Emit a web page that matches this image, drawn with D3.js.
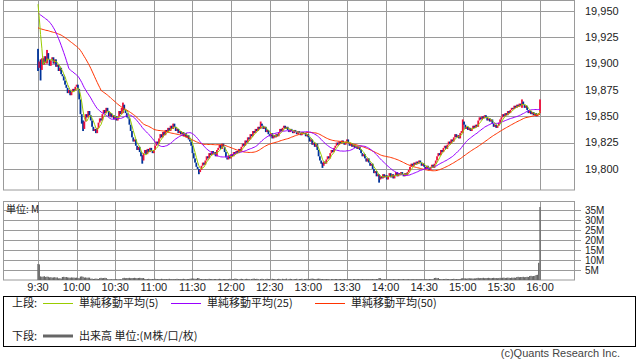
<!DOCTYPE html>
<html>
<head>
<meta charset="utf-8">
<script src="https://cdn.jsdelivr.net/npm/d3@7"></script>
<style>
body { margin: 0; background: #fff; }
text { font-family: "Liberation Sans", Arial, sans-serif; fill: #222; }
.jp { font-family: "Noto Sans CJK JP", "Liberation Sans", sans-serif; }
</style>
</head>
<body>
<svg id="chart" width="638" height="362"></svg>
<script>
// tick labels
var timeLabels = ["9:30", "10:00", "10:30", "11:00", "11:30", "12:00", "12:30",
                  "13:00", "13:30", "14:00", "14:30", "15:00", "15:30", "16:00"];
var priceTicks = [19800, 19825, 19850, 19875, 19900, 19925, 19950];
var volTicks = [5, 10, 15, 20, 25, 30, 35];

// previous session closes (needed for the moving averages at 9:30)
var prevCloses = [
  19918, 19922, 19920, 19917, 19921, 19924, 19919, 19916, 19920, 19923,
  19921, 19918, 19915, 19919, 19922, 19920, 19917, 19921, 19924, 19922,
  19919, 19921, 19918, 19920, 19923,
  19918, 19921, 19924, 19926, 19925, 19928, 19930, 19929, 19933,
  19940, 19947, 19952, 19957,
  19962, 19966, 19969, 19972, 19970, 19974, 19971, 19968, 19972, 19970, 19976
];

var firstOpen = 19912;

// 1 minute closes 9:30 .. 16:00
var closes = [
  19896, 19902, 19894, 19905, 19899, 19907, 19901, 19910, 19904, 19898,
  19903, 19906, 19900, 19904, 19897, 19899, 19893, 19896, 19890, 19888,
  19884, 19880, 19877, 19872, 19875, 19870, 19873, 19876, 19874, 19878,
  19880, 19876, 19866, 19852, 19843, 19838, 19845, 19852, 19849, 19855,
  19851, 19846, 19840, 19836, 19838, 19834, 19839, 19844, 19848, 19846,
  19852, 19856, 19853, 19858, 19855, 19850, 19853, 19849, 19851, 19847,
  19850, 19846, 19849, 19855, 19852, 19858, 19861, 19856, 19853, 19849,
  19848, 19842, 19836, 19830, 19826, 19828, 19822, 19818, 19821, 19816,
  19812, 19808, 19815, 19818, 19814, 19819, 19816, 19820, 19817, 19815,
  19818, 19822, 19826, 19824, 19829, 19833, 19830, 19835, 19832, 19837,
  19835, 19839, 19836, 19841, 19838, 19843, 19840, 19836, 19838, 19834,
  19836, 19833, 19835, 19831, 19834, 19830, 19832, 19828, 19826, 19822,
  19815, 19810, 19806, 19802, 19800, 19797, 19799, 19803, 19806, 19804,
  19808, 19812, 19810, 19815, 19813, 19817, 19814, 19816, 19812, 19818,
  19820, 19823, 19819, 19824, 19821, 19816, 19811, 19809, 19813, 19810,
  19814, 19812, 19816, 19814, 19817, 19815, 19819, 19817, 19821, 19824,
  19822, 19827, 19825, 19830, 19828, 19833, 19831, 19836, 19834, 19838,
  19836, 19840, 19838, 19843, 19841, 19838, 19840, 19835, 19837, 19833,
  19831, 19834, 19829, 19832, 19830, 19833, 19831, 19835, 19838, 19836,
  19839, 19841, 19838, 19840, 19837, 19835, 19838, 19836, 19834, 19837,
  19835, 19833, 19836, 19834, 19832, 19835, 19833, 19834, 19831, 19833,
  19830, 19826, 19828, 19823, 19825, 19821, 19824, 19818, 19812, 19808,
  19805, 19803, 19807, 19805, 19809, 19812, 19810, 19815, 19818, 19816,
  19820, 19822, 19825, 19823, 19826, 19824, 19827, 19825, 19823, 19826,
  19828, 19825, 19822, 19824, 19821, 19823, 19820, 19822, 19819, 19821,
  19818, 19815, 19812, 19814, 19810, 19807, 19810, 19806, 19803, 19805,
  19800, 19796, 19798, 19793, 19795, 19790, 19793, 19791, 19795, 19792,
  19794, 19790, 19793, 19796, 19792, 19795, 19791, 19794, 19797, 19793,
  19796, 19794, 19797, 19795, 19793, 19796, 19794, 19797, 19799, 19802,
  19805, 19803, 19806, 19804, 19807, 19805, 19808, 19806, 19803, 19805,
  19802, 19800, 19803, 19801, 19799, 19802, 19804, 19801, 19805, 19808,
  19812, 19815, 19813, 19818, 19816, 19820, 19822, 19819, 19823, 19826,
  19824, 19828, 19826, 19830, 19833, 19830, 19832, 19829, 19834, 19836,
  19845, 19842, 19838, 19840, 19837, 19839, 19836, 19838, 19841, 19839,
  19842, 19840, 19846, 19849, 19847, 19850, 19848, 19851, 19849, 19846,
  19848, 19845, 19847, 19843, 19840, 19842, 19839, 19841, 19844, 19847,
  19849, 19852, 19850, 19853, 19851, 19855, 19853, 19856, 19858, 19857,
  19860, 19858, 19861, 19859, 19862, 19860, 19864, 19861, 19858, 19860,
  19856, 19853, 19855, 19852, 19854, 19851, 19853, 19850, 19852, 19853,
  19866
];

// longer shadows: [minute, high, low]
var wicks = [
  [0, 19914, 19893], [2, 19904, 19884], [7, 19913, 19900], [35, 19846, 19836],
  [66, 19863, 19853], [81, 19813, 19805], [125, 19800, 19795], [173, 19845, 19838],
  [221, 19806, 19801], [265, 19795, 19787], [330, 19847, 19834], [376, 19866, 19858]
];

// volume, millions
var volumes = [
  8.0, 7.8, 1.8, 1.6, 1.7, 1.9, 1.5, 1.7, 1.6, 1.3,
  1.4, 1.2, 1.3, 1.4, 1.2, 1.3, 0.8, 0.9, 0.7, 1.5,
  1.6, 1.4, 1.5, 1.3, 1.2, 1.1, 1.3, 1.2, 1.2, 1.1,
  1.2, 1.0, 0.9, 1.7, 1.8, 1.6, 1.2, 1.3, 1.1, 1.2,
  1.2, 0.6, 0.7, 0.5, 0.6, 0.7, 0.6, 0.5, 1.0, 1.1,
  0.9, 1.0, 1.1, 1.0, 0.4, 0.3, 0.4, 0.4, 0.3, 0.4,
  0.5, 0.4, 0.3, 0.4, 0.4, 0.3, 1.0, 1.1, 0.9, 1.0,
  1.0, 1.1, 0.9, 1.0, 1.0, 1.1, 1.0, 0.9, 1.0, 1.1,
  1.0, 0.9, 1.0, 0.5, 0.4, 0.5, 0.6, 0.5, 0.4, 0.5,
  0.5, 0.6, 0.4, 0.5, 0.5, 0.4, 0.6, 0.5, 0.5, 0.4,
  0.5, 0.5, 0.6, 0.4, 0.5, 0.5, 0.4, 0.5, 0.6, 0.5,
  0.4, 0.5, 0.5, 0.6, 0.5, 0.4, 0.5, 0.5, 0.6, 0.7,
  0.8, 0.7, 0.6, 0.6, 1.0, 0.9, 0.5, 0.5, 0.4, 0.5,
  0.5, 0.4, 0.5, 0.6, 0.5, 0.5, 0.4, 0.5, 0.5, 0.4,
  0.5, 0.6, 0.5, 0.4, 0.5, 0.5, 0.5, 0.4, 0.5, 0.6,
  0.5, 0.4, 0.5, 0.7, 0.6, 0.5, 0.2, 0.5, 0.6, 0.5,
  0.2, 0.5, 0.6, 0.5, 0.5, 0.2, 0.5, 0.6, 0.7, 0.5,
  0.6, 0.5, 0.2, 0.5, 0.6, 0.5, 0.2, 0.5, 0.6, 0.5,
  0.5, 0.2, 0.6, 0.5, 0.5, 0.2, 0.5, 0.6, 0.5, 0.2,
  0.6, 0.5, 0.5, 0.7, 0.2, 0.5, 0.6, 0.5, 0.2, 0.5,
  0.5, 0.6, 0.2, 0.5, 0.5, 0.6, 0.2, 0.5, 0.5, 0.6,
  0.5, 0.5, 0.6, 0.7, 0.6, 0.5, 0.5, 0.6, 0.7, 0.6,
  0.5, 0.5, 0.4, 0.5, 0.5, 0.4, 0.5, 0.2, 0.5, 0.5,
  0.4, 0.5, 0.5, 0.4, 0.5, 0.5, 0.4, 0.5, 0.5, 0.4,
  0.5, 0.5, 0.4, 0.5, 0.2, 0.5, 0.5, 0.4, 0.5, 0.5,
  0.4, 0.5, 0.5, 0.4, 0.5, 0.5, 0.4, 0.5, 0.5, 0.4,
  0.5, 0.5, 0.4, 0.5, 0.5, 1.0, 0.9, 0.4, 0.4, 0.5,
  0.4, 0.4, 0.5, 0.4, 0.4, 0.4, 0.5, 0.4, 0.4, 0.4,
  0.5, 0.4, 0.4, 0.4, 0.5, 0.4, 0.4, 0.4, 0.5, 0.4,
  0.4, 0.4, 0.5, 0.4, 0.4, 0.4, 0.5, 0.4, 0.4, 0.4,
  0.5, 0.4, 0.4, 0.4, 0.5, 0.4, 0.4, 0.4, 1.0, 1.1,
  0.9, 1.0, 0.5, 0.5, 0.4, 0.5, 0.5, 0.6, 0.5, 0.5,
  0.4, 0.5, 0.5, 0.6, 0.5, 0.5, 0.4, 0.5, 0.5, 0.8,
  0.9, 0.8, 0.8, 0.7, 0.8, 0.9, 0.8, 0.8, 0.7, 0.8,
  0.8, 1.0, 1.1, 0.9, 1.0, 1.0, 1.1, 0.9, 1.0, 1.0,
  1.1, 1.0, 0.9, 1.0, 1.1, 1.0, 1.0, 0.9, 1.0, 1.1,
  1.0, 1.1, 1.2, 1.0, 1.1, 1.2, 1.1, 1.0, 1.2, 1.1,
  1.2, 1.1, 1.5, 1.6, 1.4, 1.5, 1.5, 1.6, 1.4, 1.5,
  1.6, 1.5, 2.0, 2.1, 1.9, 2.0, 2.1, 2.5, 2.6, 8.6,
  36.5
];

var maSpecs = [
  {n: 50, color: "#ff3300", label: "単純移動平均(50)"},
  {n: 25, color: "#9900ff", label: "単純移動平均(25)"},
  {n: 5, color: "#99cc00", label: "単純移動平均(5)"}
];

var svg = d3.select("#chart");
var plotLeft = 3, plotRight = 574;

var x = d3.scaleLinear().domain([0, 390]).range([38, 540]);
var y = d3.scaleLinear().domain([19780, 19960.4]).range([190, 0]);
var yv = d3.scaleLinear().domain([0, 39.5]).range([280, 201]);

var candles = closes.map(function(c, i) {
  var o = i === 0 ? firstOpen : closes[i - 1];
  return {i: i, o: o, c: c, h: Math.max(o, c), l: Math.min(o, c)};
});
wicks.forEach(function(w) {
  var d = candles[w[0]];
  d.h = Math.max(d.h, w[1]);
  d.l = Math.min(d.l, w[2]);
});

var allCloses = prevCloses.concat(closes);
function sma(n) {
  return closes.map(function(c, i) {
    var k = prevCloses.length + i;
    return {i: i, v: d3.mean(allCloses.slice(k - n + 1, k + 1))};
  });
}

var gridColor = "#9a9a9a";
var halfHours = timeLabels.map(function(t, k) { return k * 30; });

// ---- price panel
var gp = svg.append("g");
gp.selectAll("line.hg").data(priceTicks).enter().append("line")
  .attr("x1", plotLeft).attr("x2", plotRight)
  .attr("y1", function(d) { return Math.round(y(d)) + 0.5; })
  .attr("y2", function(d) { return Math.round(y(d)) + 0.5; })
  .attr("stroke", gridColor);
gp.selectAll("line.vg").data(halfHours).enter().append("line")
  .attr("x1", function(d) { return Math.round(x(d)) + 0.5; })
  .attr("x2", function(d) { return Math.round(x(d)) + 0.5; })
  .attr("y1", 0).attr("y2", 190)
  .attr("stroke", gridColor);
gp.append("rect")
  .attr("x", plotLeft + 0.5).attr("y", 0.5)
  .attr("width", plotRight - plotLeft).attr("height", 189.5)
  .attr("fill", "none").attr("stroke", gridColor);

gp.selectAll("text.pl").data(priceTicks).enter().append("text")
  .attr("x", 585).attr("y", function(d) { return y(d); })
  .attr("dy", "0.35em")
  .style("font-size", "11px")
  .text(function(d) { return d3.format(",")(d); });

// candles
gp.selectAll("rect.cd").data(candles).enter().append("rect")
  .attr("x", function(d) { return x(d.i) - 0.9; })
  .attr("width", 1.8)
  .attr("y", function(d) { return y(d.h); })
  .attr("height", function(d) { return Math.max(1, y(d.l) - y(d.h)); })
  .attr("fill", function(d) { return d.c >= d.o ? "#f0103c" : "#003399"; });

// moving averages
var line = d3.line()
  .x(function(d) { return x(d.i); })
  .y(function(d) { return y(d.v); });
maSpecs.forEach(function(m) {
  gp.append("path")
    .datum(sma(m.n))
    .attr("d", line)
    .attr("fill", "none")
    .attr("stroke", m.color)
    .attr("stroke-width", 1);
});

// ---- volume panel
var gv = svg.append("g");
gv.selectAll("line.hg").data(volTicks).enter().append("line")
  .attr("x1", plotLeft).attr("x2", plotRight + 7)
  .attr("y1", function(d) { return Math.round(yv(d)) + 0.5; })
  .attr("y2", function(d) { return Math.round(yv(d)) + 0.5; })
  .attr("stroke", gridColor);
gv.selectAll("line.vg").data(halfHours).enter().append("line")
  .attr("x1", function(d) { return Math.round(x(d)) + 0.5; })
  .attr("x2", function(d) { return Math.round(x(d)) + 0.5; })
  .attr("y1", 201).attr("y2", 280)
  .attr("stroke", gridColor);
gv.append("rect")
  .attr("x", plotLeft + 0.5).attr("y", 201.5)
  .attr("width", plotRight - plotLeft).attr("height", 78.5)
  .attr("fill", "none").attr("stroke", gridColor);

gv.selectAll("rect.vb").data(volumes).enter().append("rect")
  .attr("x", function(d, i) { return x(i) - 0.65; })
  .attr("width", 1.3)
  .attr("y", function(d) { return yv(d); })
  .attr("height", function(d) { return 280 - yv(d); })
  .attr("fill", "#666");

gv.selectAll("text.vl").data(volTicks).enter().append("text")
  .attr("x", 585).attr("y", function(d) { return yv(d); })
  .attr("dy", "0.35em")
  .style("font-size", "10px")
  .text(function(d) { return d + "M"; });

gv.append("text").attr("class", "jp")
  .attr("x", 6).attr("y", 213)
  .style("font-size", "10px")
  .text("単位: M");

// time labels
svg.selectAll("text.tl").data(timeLabels).enter().append("text")
  .attr("x", function(d, k) { return x(k * 30); })
  .attr("y", 291)
  .attr("text-anchor", "middle")
  .style("font-size", "11px")
  .text(function(d) { return d; });

// ---- legend
var lg = svg.append("g");
lg.append("rect")
  .attr("x", 3.5).attr("y", 296.5).attr("width", 632).attr("height", 50)
  .attr("fill", "none").attr("stroke", "#000");
lg.append("text").attr("class", "jp").attr("x", 12).attr("y", 307)
  .style("font-size", "11px").text("上段:");
var legendX = [43, 171, 315];
maSpecs.slice().reverse().forEach(function(m, k) {
  lg.append("line")
    .attr("x1", legendX[k]).attr("x2", legendX[k] + 30)
    .attr("y1", 303.5).attr("y2", 303.5)
    .attr("stroke", m.color);
  lg.append("text").attr("class", "jp")
    .attr("x", legendX[k] + 36).attr("y", 307)
    .style("font-size", "11px").text(m.label);
});
lg.append("text").attr("class", "jp").attr("x", 12).attr("y", 340)
  .style("font-size", "11px").text("下段:");
lg.append("line")
  .attr("x1", 43).attr("x2", 73).attr("y1", 336).attr("y2", 336)
  .attr("stroke", "#666").attr("stroke-width", 3);
lg.append("text").attr("class", "jp").attr("x", 79).attr("y", 340)
  .style("font-size", "11px").text("出来高 単位:(M株/口/枚)");

svg.append("text")
  .attr("x", 620).attr("y", 357)
  .attr("text-anchor", "end")
  .style("font-size", "11px")
  .style("fill", "#444")
  .text("(c)Quants Research Inc.");
</script>
</body>
</html>
